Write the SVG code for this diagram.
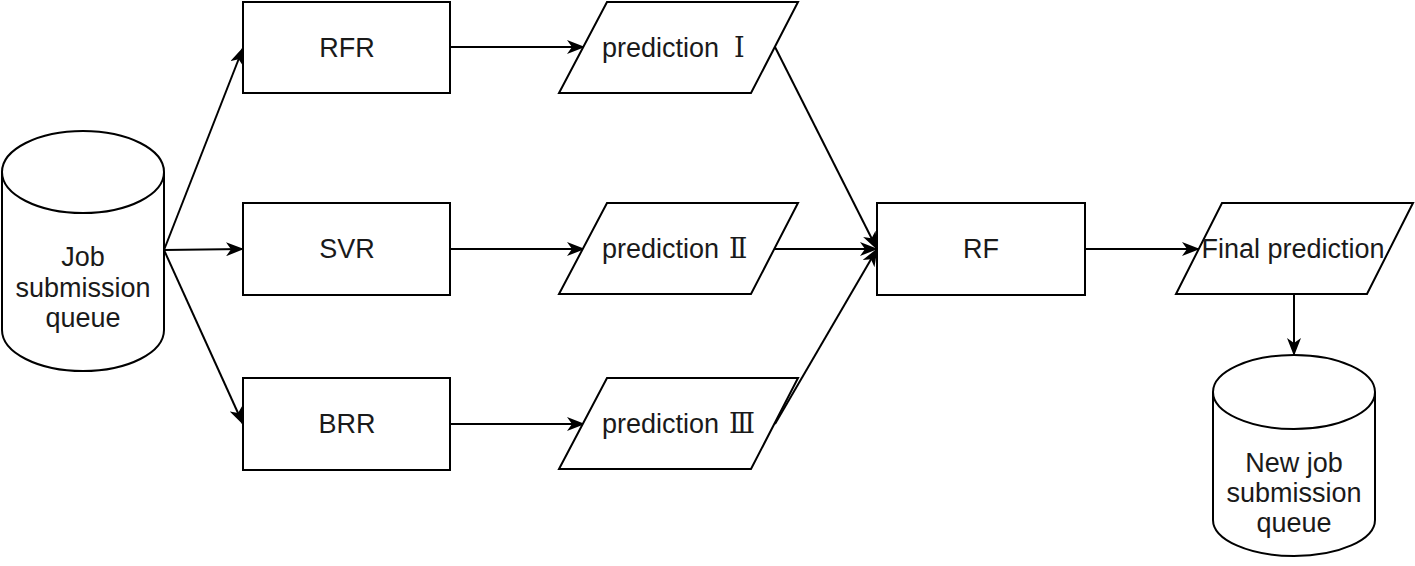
<svg xmlns="http://www.w3.org/2000/svg" width="1415" height="566" viewBox="0 0 1415 566">
<style>
.s{fill:#fff;stroke:#000;stroke-width:2}
.t{font-family:"Liberation Sans",Arial,"Noto Sans CJK SC",sans-serif;font-size:27px;fill:#1a1a1a;text-anchor:middle}
.p{text-anchor:start}
.r{font-family:"DejaVu Serif","Noto Serif CJK SC",serif;font-size:27px}
.c{fill:none;stroke:#000;stroke-width:2;marker-end:url(#a)}
</style>
<defs>
<marker id="a" viewBox="0 0 18 14" refX="17" refY="7" markerWidth="18" markerHeight="14" markerUnits="userSpaceOnUse" orient="auto">
<path d="M0,0 L18,7 L0,14 L5,7 z" fill="#000"/>
</marker>
</defs>
<g id="connectors">
<path class="c" d="M164,250 L243,48"/>
<path class="c" d="M164,250 L243,249"/>
<path class="c" d="M164,250 L243,424"/>
<path class="c" d="M451,47 L584,47"/>
<path class="c" d="M451,249 L584,249"/>
<path class="c" d="M451,424 L584,424"/>
<path class="c" d="M775,47 L877,249"/>
<path class="c" d="M775,249 L877,249"/>
<path class="c" d="M775,424 L877,249"/>
<path class="c" d="M1085,249 L1199,249"/>
<path class="c" d="M1294,294 L1294,355"/>
</g>
<g id="job-queue">
<path class="s" d="M2,172 A81,41 0 0 1 164,172 L164,330 A81,41 0 0 1 2,330 Z"/>
<path class="s" d="M2,172 A81,41 0 0 0 164,172" fill="none"/>
<text class="t" x="83" y="266">Job</text>
<text class="t" x="83" y="297">submission</text>
<text class="t" x="83" y="327">queue</text>
</g>
<g id="rfr">
<rect class="s" x="243" y="2" width="207" height="91"/>
<text class="t" x="347" y="57">RFR</text>
</g>
<g id="svr">
<rect class="s" x="243" y="203" width="207" height="92"/>
<text class="t" x="347" y="258">SVR</text>
</g>
<g id="brr">
<rect class="s" x="243" y="378" width="207" height="92"/>
<text class="t" x="347" y="433">BRR</text>
</g>
<g id="pred1">
<path class="s" d="M607,2 L798,2 L751,93 L559,93 Z"/>
<text class="t p" x="602" y="57">prediction <tspan class="r" x="734">Ⅰ</tspan></text>
</g>
<g id="pred2">
<path class="s" d="M607,203 L798,203 L751,294 L559,294 Z"/>
<text class="t p" x="602" y="258">prediction <tspan class="r" x="729">Ⅱ</tspan></text>
</g>
<g id="pred3">
<path class="s" d="M607,378 L798,378 L751,469 L559,469 Z"/>
<text class="t p" x="602" y="433">prediction <tspan class="r" x="729">Ⅲ</tspan></text>
</g>
<g id="rf">
<rect class="s" x="877" y="203" width="208" height="92"/>
<text class="t" x="981" y="258">RF</text>
</g>
<g id="final">
<path class="s" d="M1222,203 L1413,203 L1367,294 L1176,294 Z"/>
<text class="t" x="1293" y="258">Final prediction</text>
</g>
<g id="new-queue">
<path class="s" d="M1213,392 A81,37 0 0 1 1375,392 L1375,520 A81,36 0 0 1 1213,520 Z"/>
<path class="s" d="M1213,392 A81,37 0 0 0 1375,392" fill="none"/>
<text class="t" x="1294" y="472">New job</text>
<text class="t" x="1294" y="502">submission</text>
<text class="t" x="1294" y="532">queue</text>
</g>
</svg>
